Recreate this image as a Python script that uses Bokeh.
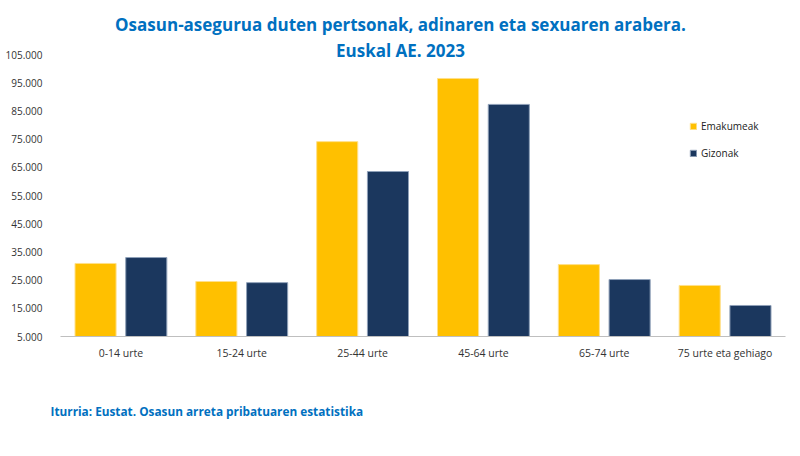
from bokeh.plotting import figure
from bokeh.models import FactorRange, Range1d, FixedTicker, Legend, LegendItem, ColumnDataSource, Title, Label
from bokeh.transform import dodge
from bokeh.embed import file_html
from bokeh.resources import INLINE

categories = ["0-14 urte", "15-24 urte", "25-44 urte", "45-64 urte", "65-74 urte", "75 urte eta gehiago"]
emakumeak = [30900, 24500, 74100, 96500, 30500, 23100]
gizonak = [33000, 24100, 63500, 87300, 25200, 16000]
tick_values = [5000, 15000, 25000, 35000, 45000, 55000, 65000, 75000, 85000, 95000, 105000]
tick_labels = ["5.000", "15.000", "25.000", "35.000", "45.000", "55.000", "65.000", "75.000", "85.000", "95.000", "105.000"]
series_names = ["Emakumeak", "Gizonak"]
title_lines = ["Osasun-asegurua duten pertsonak, adinaren eta sexuaren arabera.", "Euskal AE. 2023"]
source_text = "Iturria: Eustat. Osasun arreta pribatuaren estatistika"

YEL = "#FFC000"
NAVY = "#1B375E"
BLUE = "#0070C0"
FONT = "Open Sans"

# frame spans the full top of the figure (0..336 px); 105.000 must sit 54 px below the top
FRAME_H = 336
TOP_GAP = 54
y_start, y_top_tick = 5000, 105000
y_end = y_top_tick + TOP_GAP * (y_top_tick - y_start) / (FRAME_H - TOP_GAP)

src = ColumnDataSource(dict(cat=categories, e=emakumeak, g=gizonak))

p = figure(width=800, height=456, output_backend="svg", toolbar_location=None,
           x_range=FactorRange(*categories, range_padding=0),
           y_range=Range1d(y_start, y_end),
           min_border_left=60, min_border_right=15, min_border_top=0, min_border_bottom=120)
p.outline_line_color = None
p.xgrid.grid_line_color = None
p.ygrid.grid_line_color = None

r1 = p.vbar(x=dodge("cat", -0.21, range=p.x_range), top="e", bottom=5000, width=0.34,
            source=src, fill_color=YEL, line_color="#FFE08A", line_width=1)
r2 = p.vbar(x=dodge("cat", 0.21, range=p.x_range), top="g", bottom=5000, width=0.34,
            source=src, fill_color=NAVY, line_color="#8FA0B8", line_width=1)

p.yaxis.ticker = FixedTicker(ticks=tick_values)
p.yaxis.major_label_overrides = {v: s for v, s in zip(tick_values, tick_labels)}
p.yaxis.axis_line_color = None
p.yaxis.major_tick_line_color = None
p.yaxis.minor_tick_line_color = None
p.yaxis.major_label_text_font = FONT
p.yaxis.major_label_text_font_size = "10px"
p.yaxis.major_label_text_color = "#333333"
p.yaxis.major_label_standoff = 12

p.xaxis.axis_line_color = "#BFBFBF"
p.xaxis.axis_line_width = 1
p.xaxis.major_tick_line_color = None
p.xaxis.minor_tick_line_color = None
p.xaxis.major_label_text_font = FONT
p.xaxis.major_label_text_font_size = "10.5px"
p.xaxis.major_label_text_color = "#333333"
p.xaxis.major_label_standoff = 3

legend = Legend(items=[LegendItem(label=series_names[0], renderers=[r1]),
                       LegendItem(label=series_names[1], renderers=[r2])],
                location=(629, 176), glyph_width=8, glyph_height=8, spacing=13,
                label_text_font=FONT, label_text_font_size="10px", label_text_color="#222222",
                background_fill_alpha=0, border_line_color=None, padding=0, margin=0,
                label_standoff=4)
p.add_layout(legend)

for txt, baseline_y in zip(title_lines, [24, 50]):
    p.add_layout(Label(x=400 - 60, y=FRAME_H - baseline_y, x_units="screen", y_units="screen",
                       text=txt, text_align="center", text_baseline="alphabetic",
                       text_font=FONT, text_font_size="17px", text_font_style="bold",
                       text_color=BLUE))

src_title = Title(text=source_text, align="left", text_font=FONT, text_font_size="11.8px",
                  text_font_style="bold", text_color=BLUE, offset=-10, standoff=76)
p.add_layout(src_title, "below")

open("out.html", "w").write(file_html(p, INLINE))
